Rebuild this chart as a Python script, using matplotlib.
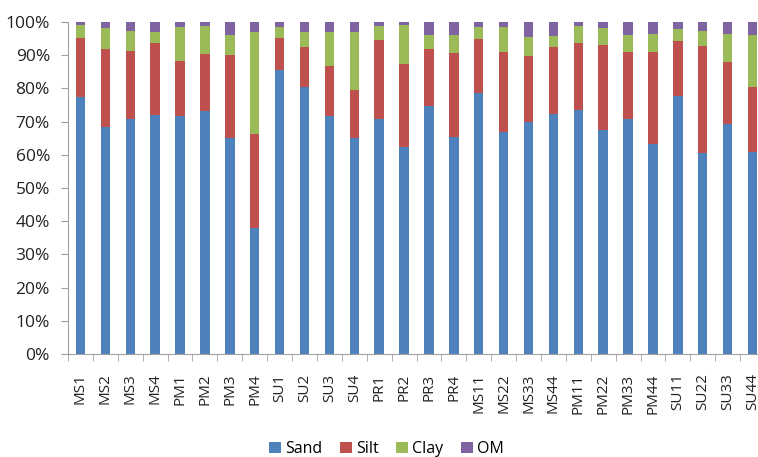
import matplotlib
matplotlib.use("Agg")
import matplotlib.pyplot as plt
import numpy as np
from matplotlib.ticker import PercentFormatter

plt.rcParams['font.family'] = ['Open Sans', 'DejaVu Sans']

samples = ["MS1", "MS2", "MS3", "MS4", "PM1", "PM2", "PM3", "PM4",
           "SU1", "SU2", "SU3", "SU4", "PR1", "PR2", "PR3", "PR4",
           "MS11", "MS22", "MS33", "MS44", "PM11", "PM22", "PM33", "PM44",
           "SU11", "SU22", "SU33", "SU44"]

sand = [77.3, 68.5, 70.8, 72.1, 71.8, 73.1, 65.0, 37.9,
        85.6, 80.5, 71.8, 65.1, 70.8, 62.2, 74.8, 65.3,
        78.6, 66.9, 69.8, 72.4, 73.4, 67.5, 70.8, 63.4,
        77.6, 60.6, 69.2, 60.8]
silt = [18.0, 23.3, 20.6, 21.6, 16.6, 17.4, 25.2, 28.4,
        9.7, 11.9, 14.9, 14.4, 23.9, 25.2, 17.2, 25.3,
        16.4, 24.2, 20.0, 20.0, 20.2, 25.6, 20.3, 27.7,
        16.8, 32.3, 18.8, 19.7]
clay = [3.7, 6.4, 6.0, 3.4, 10.0, 8.2, 6.0, 30.6,
        3.1, 4.7, 10.2, 17.4, 4.0, 11.6, 4.2, 5.6,
        3.4, 7.3, 5.8, 3.4, 5.1, 5.1, 5.1, 5.4,
        3.5, 4.5, 8.5, 15.7]
om = [1.0, 1.8, 2.6, 2.9, 1.6, 1.3, 3.8, 3.1,
      1.6, 2.9, 3.1, 3.1, 1.3, 1.0, 3.8, 3.8,
      1.6, 1.6, 4.4, 4.2, 1.3, 1.8, 3.8, 3.5,
      2.1, 2.6, 3.5, 3.8]

series = [("Sand", sand, "#4F81BD"), ("Silt", silt, "#C0504D"),
          ("Clay", clay, "#9BBB59"), ("OM", om, "#8064A2")]

fig = plt.figure(figsize=(7.58, 4.57), dpi=100)
ax = fig.add_axes([68 / 758, 103 / 457, 697 / 758, 332 / 457])

x = np.arange(len(samples))
bottom = np.zeros(len(samples))
for name, vals, color in series:
    vals = np.array(vals)
    ax.bar(x, vals, bottom=bottom, width=0.38, color=color, label=name,
           edgecolor='none')
    bottom += vals

ax.set_xlim(-0.5, len(samples) - 0.5)
ax.set_ylim(0, 100)
ax.set_yticks(np.arange(0, 101, 10))
ax.yaxis.set_major_formatter(PercentFormatter(decimals=0))

ax.set_xticks(x)
ax.set_xticklabels(samples, rotation=90, fontsize=11, color='#222222')
ax.set_xticks(np.arange(-0.5, len(samples), 1), minor=True)
ax.tick_params(axis='x', which='major', length=0, pad=14)
ax.tick_params(axis='x', which='minor', length=5, color='#A0A0A0', direction='out')
ax.tick_params(axis='y', length=5, color='#A0A0A0', labelsize=12.5,
               labelcolor='#222222', pad=8)

for side in ('top', 'right'):
    ax.spines[side].set_visible(False)
for side in ('left', 'bottom'):
    ax.spines[side].set_color('#A0A0A0')

fig.legend(loc='center', bbox_to_anchor=(0.51, 8 / 457), ncol=4,
           frameon=False, fontsize=11.5, handlelength=0.75, handleheight=0.75,
           handletextpad=0.25, columnspacing=1.1, borderpad=0)

fig.savefig("out.png", dpi=100)
